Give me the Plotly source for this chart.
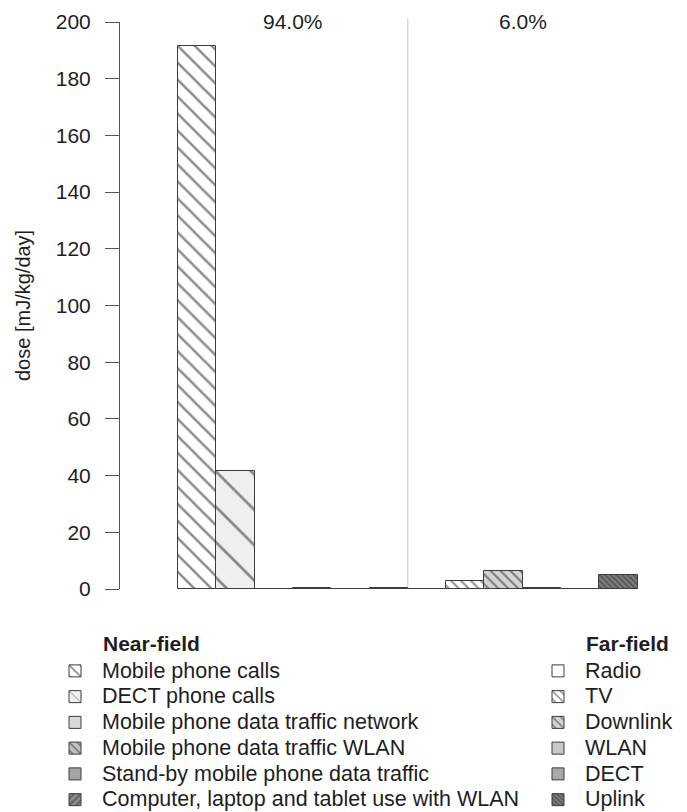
import plotly.graph_objects as go

# ---------------- data ----------------
near_labels = [
    "Mobile phone calls",
    "DECT phone calls",
    "Mobile phone data traffic network",
    "Mobile phone data traffic WLAN",
    "Stand-by mobile phone data traffic",
    "Computer, laptop and tablet use with WLAN",
]
near_values = [191.5, 41.5, 0.1, 0.35, 0.1, 0.35]

far_labels = ["Radio", "TV", "Downlink", "WLAN", "DECT", "Uplink"]
far_values = [0.15, 2.9, 6.4, 0.3, 0.1, 4.8]

group_shares = ["94.0%", "6.0%"]
y_ticks = [0, 20, 40, 60, 80, 100, 120, 140, 160, 180, 200]

# ---------------- styles ----------------
near_styles = [
    dict(bg="#ffffff", shape="\\", size=12, sol=0.22),
    dict(bg="#efefef", shape="\\", size=25, sol=0.11),
    dict(bg="#d9d9d9", shape="", size=8, sol=0.2),
    dict(bg="#c2c2c2", shape="\\", size=7, sol=0.28),
    dict(bg="#a6a6a6", shape="", size=8, sol=0.2),
    dict(bg="#8a8a8a", shape="/", size=6, sol=0.3),
]
far_styles = [
    dict(bg="#ffffff", shape="", size=8, sol=0.2),
    dict(bg="#ffffff", shape="\\", size=7, sol=0.28),
    dict(bg="#d4d4d4", shape="\\", size=7, sol=0.28),
    dict(bg="#c8c8c8", shape="", size=8, sol=0.2),
    dict(bg="#a8a8a8", shape="", size=8, sol=0.2),
    dict(bg="#7c7c7c", shape="\\", size=4, sol=0.35),
]

FONT = "Liberation Sans, Arial, sans-serif"
TXT = "#1e1e1e"
W, H = 687, 812
ML, MR, MT, MB = 120, 27, 22, 223
plot_w = W - ML - MR
plot_h = H - MT - MB
bar_left_px, bar_px = 178.0, 38.3
x0 = -0.5 - (bar_left_px - ML) / bar_px
x1 = x0 + plot_w / bar_px

fig = go.Figure()

def add_bars(labels, values, styles, offset, legend):
    for i, (lab, val, st) in enumerate(zip(labels, values, styles)):
        fig.add_trace(go.Bar(
            x=[offset + i], y=[val], width=1.0,
            name='<span style="font-size:21.5px">' + lab + '</span>',
            legend=legend,
            marker=dict(
                color=st["bg"],
                line=dict(color="#3c3c3c", width=1),
                pattern=dict(shape=st["shape"], fgcolor="#1e1e1e",
                             bgcolor=st["bg"], size=st["size"],
                             solidity=st["sol"], fillmode="overlay"),
            ),
            hovertemplate=lab + ": %{y}<extra></extra>",
        ))

add_bars(near_labels, near_values, near_styles, 0, "legend")
add_bars(far_labels, far_values, far_styles, len(near_labels), "legend2")

n_near = len(near_labels)
n_far = len(far_labels)
sep_x = n_near - 0.5

fig.add_shape(type="line", xref="x", yref="paper", x0=sep_x, x1=sep_x,
              y0=0, y1=1.007, line=dict(color="#c8c8c8", width=1), layer="below")

def px_x(px):
    return (px - ML) / plot_w

def px_y(py):
    return (H - MB - py) / plot_h

centers = [(n_near - 1) / 2, n_near + (n_far - 1) / 2]
for cx, txt in zip(centers, group_shares):
    fig.add_annotation(x=cx, y=px_y(21), xref="x", yref="paper", text=txt,
                       showarrow=False, yanchor="middle", xanchor="center",
                       font=dict(size=21, family=FONT, color=TXT))

fig.add_annotation(x=px_x(23), y=px_y(306), xref="paper", yref="paper",
                   text="dose [mJ/kg/day]", textangle=-90, showarrow=False,
                   xanchor="center", yanchor="middle",
                   font=dict(size=20, family=FONT, color=TXT))

fig.add_annotation(x=px_x(101), y=px_y(643), xref="paper", yref="paper",
                   text="<b>Near-field</b>", showarrow=False,
                   xanchor="left", yanchor="middle",
                   font=dict(size=21, family=FONT, color=TXT))
fig.add_annotation(x=px_x(584), y=px_y(643), xref="paper", yref="paper",
                   text="<b>Far-field</b>", showarrow=False,
                   xanchor="left", yanchor="middle",
                   font=dict(size=21, family=FONT, color=TXT))

legend_common = dict(
    font=dict(size=17.5, family=FONT, color=TXT),
    bgcolor="rgba(0,0,0,0)", borderwidth=0,
    xanchor="left", yanchor="top", orientation="v",
    tracegroupgap=0, itemclick=False, itemdoubleclick=False,
    traceorder="normal", itemwidth=44,
)

fig.update_layout(
    width=W, height=H,
    margin=dict(l=ML, r=MR, t=MT, b=MB, pad=0, autoexpand=False),
    paper_bgcolor="white", plot_bgcolor="white",
    barmode="overlay", bargap=0,
    showlegend=True,
    legend=dict(x=px_x(48), y=px_y(653), **legend_common),
    legend2=dict(x=px_x(531), y=px_y(653), **legend_common),
    xaxis=dict(range=[x0, x1], visible=False, fixedrange=True),
    yaxis=dict(
        range=[0, 200], tickmode="array", tickvals=y_ticks,
        showline=True, linecolor="#555", linewidth=1,
        ticks="outside", ticklen=14, tickcolor="#555", tickwidth=1,
        showgrid=False, zeroline=False,
        tickfont=dict(size=21, family=FONT, color=TXT),
        ticklabelstandoff=10, fixedrange=True,
    ),
    font=dict(family=FONT, color=TXT),
)

fig.write_html("out.html")
